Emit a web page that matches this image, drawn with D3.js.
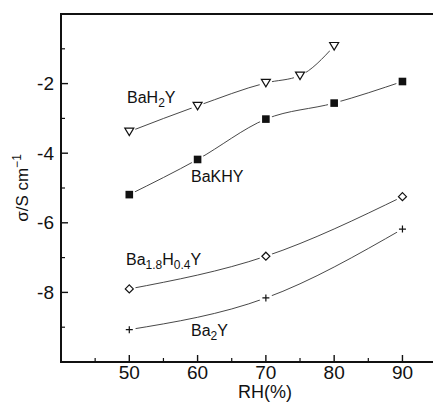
<html>
	<head>
		<script type="text/javascript" src="https://cdn.jsdelivr.net/npm/d3@7"></script>
		<style>
			body { margin: 0; background: #fff; }
			text { font-family: "Liberation Sans", Arial, sans-serif; fill: #111; }
		</style>
	</head>
	<body>
		<script type="text/javascript">

			// data
			var baH2Y_x = [50, 60, 70, 75, 80];
			var baH2Y_y = [-3.38, -2.64, -1.98, -1.77, -0.92];

			var baKHY_x = [50, 60, 70, 80, 90];
			var baKHY_y = [-5.19, -4.18, -3.02, -2.56, -1.94];

			var ba18_x = [50, 70, 90];
			var ba18_y = [-7.9, -6.96, -5.25];

			var ba2Y_x = [50, 70, 90];
			var ba2Y_y = [-9.07, -8.16, -6.18];

			var xMajor = [50, 60, 70, 80, 90];
			var xMinor = [45, 55, 65, 75, 85, 95];
			var yMajor = [-8, -6, -4, -2];
			var yMinor = [-9, -7, -5, -3, -1];

			var width = 433,
				height = 403;

			var x = d3.scaleLinear()
				.domain([40, 95])
				.range([61, 436.6]);

			var y = d3.scaleLinear()
				.domain([-10, 0])
				.range([362, 14]);

			var svg = d3.select('body').append('svg')
				.attr('width', width)
				.attr('height', height);

			function zip(xs, ys){
				return xs.map(function(d, i){ return [d, ys[i]]; });
			}

			var series = [
				{ pts: zip(baH2Y_x, baH2Y_y), mark: 'tri' },
				{ pts: zip(baKHY_x, baKHY_y), mark: 'sq' },
				{ pts: zip(ba18_x, ba18_y), mark: 'dia' },
				{ pts: zip(ba2Y_x, ba2Y_y), mark: 'plus' }
			];

			var line = d3.line()
				.x(function(d){ return x(d[0]); })
				.y(function(d){ return y(d[1]); })
				.curve(d3.curveMonotoneX);

			// lines
			svg.selectAll('path.line').data(series).enter().append('path')
				.attr('class', 'line')
				.attr('d', function(d){ return line(d.pts); })
				.attr('fill', 'none')
				.attr('stroke', '#333')
				.attr('stroke-width', 0.9);

			// gaps round markers
			series.forEach(function(s){
				svg.selectAll(null).data(s.pts).enter().append('circle')
					.attr('cx', function(d){ return x(d[0]); })
					.attr('cy', function(d){ return y(d[1]); })
					.attr('r', 6.5)
					.attr('fill', '#fff');
			});

			// markers
			series.forEach(function(s){
				var g = svg.selectAll(null).data(s.pts).enter().append('g')
					.attr('transform', function(d){ return 'translate(' + x(d[0]) + ',' + y(d[1]) + ')'; });
				if (s.mark == 'tri') {
					g.append('path').attr('d', 'M-4.5,-3.5L4.5,-3.5L0,4Z')
						.attr('fill', '#fff').attr('stroke', '#111').attr('stroke-width', 1.2);
				} else if (s.mark == 'sq') {
					g.append('rect').attr('x', -3.8).attr('y', -3.8).attr('width', 7.6).attr('height', 7.6)
						.attr('fill', '#111');
				} else if (s.mark == 'dia') {
					g.append('path').attr('d', 'M0,-4L4,0L0,4L-4,0Z')
						.attr('fill', '#fff').attr('stroke', '#111').attr('stroke-width', 1.2);
				} else {
					g.append('path').attr('d', 'M-3.5,0H3.5M0,-3.5V3.5')
						.attr('stroke', '#111').attr('stroke-width', 1.2);
				}
			});

			// frame: left, top, bottom
			svg.append('path')
				.attr('d', 'M' + x(95) + ',' + y(0) + 'H' + x(40) + 'V' + y(-10) + 'H' + x(95))
				.attr('fill', 'none')
				.attr('stroke', '#111')
				.attr('stroke-width', 2);

			// x ticks (inward)
			svg.selectAll(null).data(xMajor).enter().append('line')
				.attr('x1', function(d){ return x(d); }).attr('x2', function(d){ return x(d); })
				.attr('y1', y(-10)).attr('y2', y(-10) - 7)
				.attr('stroke', '#111').attr('stroke-width', 1.4);
			svg.selectAll(null).data(xMinor).enter().append('line')
				.attr('x1', function(d){ return x(d); }).attr('x2', function(d){ return x(d); })
				.attr('y1', y(-10)).attr('y2', y(-10) - 4)
				.attr('stroke', '#111').attr('stroke-width', 1.2);
			svg.selectAll(null).data(xMajor).enter().append('text')
				.attr('x', function(d){ return x(d); })
				.attr('y', 379)
				.attr('text-anchor', 'middle')
				.attr('font-size', 19)
				.text(function(d){ return d; });

			// y ticks (inward)
			svg.selectAll(null).data(yMajor).enter().append('line')
				.attr('x1', x(40)).attr('x2', x(40) + 7)
				.attr('y1', function(d){ return y(d); }).attr('y2', function(d){ return y(d); })
				.attr('stroke', '#111').attr('stroke-width', 1.4);
			svg.selectAll(null).data(yMinor).enter().append('line')
				.attr('x1', x(40)).attr('x2', x(40) + 4)
				.attr('y1', function(d){ return y(d); }).attr('y2', function(d){ return y(d); })
				.attr('stroke', '#111').attr('stroke-width', 1.2);
			svg.selectAll(null).data(yMajor).enter().append('text')
				.attr('x', 54)
				.attr('y', function(d){ return y(d) + 6.5; })
				.attr('text-anchor', 'end')
				.attr('font-size', 19)
				.text(function(d){ return d; });

			// axis titles
			svg.append('text')
				.attr('x', 265).attr('y', 398)
				.attr('text-anchor', 'middle')
				.attr('font-size', 18)
				.text('RH(%)');

			var yt = svg.append('text')
				.attr('transform', 'translate(28,188) rotate(-90)')
				.attr('text-anchor', 'middle')
				.attr('font-size', 17);
			yt.append('tspan').text('σ/S cm');
			yt.append('tspan').attr('dy', -7).attr('font-size', 12).text('−1');

			// series labels with subscripts
			function label(px, py, parts){
				var t = svg.append('text').attr('x', px).attr('y', py).attr('font-size', 16);
				var shift = 0;
				parts.forEach(function(p){
					var dy = p[1] ? 4 - shift : -shift;
					shift += dy;
					t.append('tspan').attr('dy', dy).attr('font-size', p[1] ? 12 : 16).text(p[0]);
				});
			}
			label(127, 103, [['BaH', 0], ['2', 1], ['Y', 0]]);
			label(191, 182, [['BaKHY', 0]]);
			label(126, 265, [['Ba', 0], ['1.8', 1], ['H', 0], ['0.4', 1], ['Y', 0]]);
			label(191, 336, [['Ba', 0], ['2', 1], ['Y', 0]]);

		</script>
	</body>
</html>
